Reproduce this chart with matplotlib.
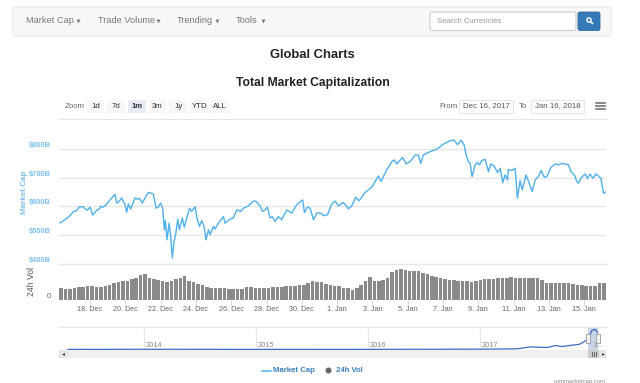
import numpy as np
import matplotlib
matplotlib.use("Agg")
import matplotlib.pyplot as plt
from matplotlib.patches import FancyBboxPatch, Rectangle, Circle

plt.rcParams["font.family"] = ["Liberation Sans", "DejaVu Sans"]

W, H = 640, 383

# ===== DATA =====
# days since the left edge of the chart (Dec 16), market cap in $B
cap_days = [
    0.06, 0.34, 0.62, 0.81, 1.00, 1.15, 1.34, 1.61, 1.76, 1.91, 2.14, 2.29, 2.36, 2.48, 2.66, 2.89,
    3.17, 3.27, 3.42, 3.55, 3.74, 3.84, 3.93, 4.06, 4.31, 4.44, 4.55, 4.72, 5.06, 5.35, 5.50, 5.63,
    5.76, 5.88, 5.97, 6.03, 6.12, 6.24, 6.33, 6.42, 6.52, 6.61, 6.73, 6.82, 6.99, 7.10, 7.39, 7.52,
    7.71, 7.84, 7.96, 8.09, 8.22, 8.33, 8.47, 8.56, 8.75, 8.84, 9.03, 9.32, 9.41, 9.69, 9.88, 10.07,
    10.30, 10.45, 10.73, 11.02, 11.17, 11.40, 11.53, 11.68, 11.81, 11.96, 12.09, 12.24, 12.43, 12.62,
    12.91, 13.19, 13.47, 13.81, 13.91, 14.08, 14.23, 14.42, 14.61, 14.85, 14.99, 15.21, 15.46, 15.65,
    15.83, 16.12, 16.40, 16.59, 16.82, 17.01, 17.35, 17.72, 18.10, 18.25, 18.57, 18.86, 18.99, 19.14,
    19.48, 19.67, 19.90, 20.18, 20.37, 20.50, 20.65, 20.84, 21.03, 21.41, 21.79, 22.16, 22.39, 22.58,
    22.79, 22.96, 23.05, 23.20, 23.30, 23.41, 23.58, 23.71, 23.83, 23.96, 24.15, 24.34, 24.47, 24.66,
    24.85, 25.00, 25.15, 25.28, 25.42, 25.47, 25.66, 25.85, 25.98, 26.13, 26.25, 26.47, 26.82, 26.98,
    27.17, 27.32, 27.50, 27.65, 27.88, 28.12, 28.31, 28.50, 28.88, 29.01, 29.20, 29.35, 29.44, 29.57,
    29.82, 29.95, 30.10, 30.26, 30.44, 30.71, 30.86, 31.00,
]
cap_values = [
    543, 554, 568, 582, 586, 599, 599, 587, 598, 570, 587, 591, 602, 597, 605, 623,
    642, 612, 619, 630, 606, 580, 609, 591, 630, 625, 629, 612, 649, 644, 594, 598,
    612, 594, 519, 551, 484, 542, 496, 421, 479, 502, 556, 519, 560, 528, 593, 583,
    599, 554, 531, 551, 531, 484, 519, 502, 531, 521, 542, 565, 542, 556, 560, 588,
    583, 594, 602, 619, 618, 602, 583, 588, 598, 560, 565, 548, 565, 554,
    588, 577, 606, 623, 579, 598, 594, 554, 577, 577, 568, 571, 609, 619,
    602, 614, 592, 602, 632, 620, 649, 667, 706, 687, 727, 756, 762, 748,
    771, 748, 756, 779, 779, 750, 779, 785, 791, 799, 817, 829, 831, 815,
    831, 814, 785, 756, 750, 704, 745, 753, 745, 760, 764, 721, 748, 741,
    718, 733, 683, 710, 692, 729, 725, 733, 629, 690, 658, 710, 652, 692,
    704, 725, 702, 704, 736, 748, 745, 750, 745, 721, 710, 687, 681, 698,
    713, 698, 713, 698, 713, 698, 646, 651,
]

# 24h volume in $B, one value every quarter of a day
vol_values = [
    23, 22, 22, 23, 26, 26, 28, 27, 25, 25, 28, 30, 34, 36, 38, 38,
    41, 44, 49, 50, 43, 42, 39, 38, 36, 38, 41, 43, 46, 38, 35, 32,
    29, 26, 24, 24, 23, 23, 22, 22, 21, 22, 25, 25, 24, 24, 23, 24,
    25, 25, 26, 27, 28, 28, 29, 30, 33, 38, 35, 35, 31, 29, 28, 27,
    24, 23, 20, 24, 30, 38, 45, 38, 38, 40, 44, 54, 58, 60, 59, 57,
    57, 56, 53, 50, 46, 45, 43, 41, 40, 39, 38, 37, 37, 36, 38, 40,
    41, 42, 41, 43, 43, 44, 45, 44, 44, 43, 43, 44, 43, 40, 34, 33,
    33, 33, 33, 33, 32, 30, 29, 28, 28, 27, 33, 33,
]
vol_ticks = ["18. Dec", "20. Dec", "22. Dec", "24. Dec", "26. Dec", "28. Dec", "30. Dec", "1. Jan",
             "3. Jan", "5. Jan", "7. Jan", "9. Jan", "11. Jan", "13. Jan", "15. Jan"]

# navigator: whole history, decimal year and market cap in $B
nav_years = [2013.32, 2014.0, 2014.5, 2015.0, 2015.5, 2016.0, 2016.5, 2017.0, 2017.33, 2017.45,
             2017.6, 2017.67, 2017.73, 2017.89, 2017.95, 2017.98, 2018.0, 2018.03, 2018.05]
nav_values = [3, 10, 8, 5, 5, 7, 10, 14, 27, 109, 82, 163, 122, 218, 381, 585, 789, 830, 694]
nav_year_labels = [2014, 2015, 2016, 2017]

cap_ticks = [400, 500, 600, 700, 800]
zoom_labels = ["1d", "7d", "1m", "3m", "1y", "YTD", "ALL"]
menu_labels = ["Market Cap", "Trade Volume", "Trending", "Tools"]

BLUE = "#4fb0ea"
TICK_BLUE = "#7cc0f0"
GRID = "#e6e6e6"
GRAY = "#666666"


def pixel_axes(fig, x0, y0, x1, y1):
    # axes from picture pixels (y counted from the top)
    return fig.add_axes([x0 / W, 1 - y1 / H, (x1 - x0) / W, (y1 - y0) / H])


fig = plt.figure(figsize=(W / 100, H / 100), dpi=100)

# page furniture lives in one axes counted in pixels
bg = fig.add_axes([0, 0, 1, 1])
bg.set_xlim(0, W)
bg.set_ylim(H, 0)
bg.axis("off")

bg.add_patch(FancyBboxPatch((13, 7), 598, 29, boxstyle="round,pad=0,rounding_size=2",
                            fc="#f8f8f8", ec="#e7e7e7", lw=0.8))
for label, x, caret in zip(menu_labels, [26, 98, 177, 236], [78, 158, 217, 263]):
    bg.text(x, 20.5, label, fontsize=6.7, color="#777777", va="center")
    bg.plot([caret], [21], marker="v", ms=2.8, color="#777777", mew=0)

bg.add_patch(FancyBboxPatch((430, 12), 146, 18.5, boxstyle="round,pad=0,rounding_size=2",
                            fc="white", ec="#cccccc", lw=0.8))
bg.text(437, 21.5, "Search Currencies", fontsize=5.6, color="#999999", va="center")
bg.add_patch(FancyBboxPatch((578, 12), 22, 18.5, boxstyle="round,pad=0,rounding_size=2",
                            fc="#337ab7", ec="#2e6da4", lw=0.6))
bg.add_patch(Circle((589, 20), 2.1, fc="none", ec="white", lw=1))
bg.plot([590.5, 592.5], [21.5, 23.5], color="white", lw=1.1)

bg.text(312.5, 55, "Global Charts", fontsize=9.4, color="#222222", ha="center", va="center",
        fontweight="bold")
bg.text(312.5, 83, "Total Market Capitalization", fontsize=8.7, color="#222222", ha="center",
        va="center", fontweight="bold")

# range selector row
bg.text(65, 106.5, "Zoom", fontsize=5.7, color="#666666", va="center")
for label, x0, x1 in zip(zoom_labels, [87, 107, 128, 149, 169, 191, 211],
                         [104, 125, 146, 166, 187, 208, 229]):
    active = label == "1m"
    bg.add_patch(Rectangle((x0, 100), x1 - x0, 13, fc="#e6ebf5" if active else "#f7f7f7", ec="none"))
    bg.text((x0 + x1) / 2, 106, label, fontsize=5.6, color="#333333", ha="center", va="center",
            fontweight="bold" if active else "normal")
bg.text(439, 106, "From", fontsize=5.6, color="#666666", va="center")
bg.text(519, 106, "To", fontsize=5.6, color="#666666", va="center")
for label, x0, x1 in [("Dec 16, 2017", 459, 513), ("Jan 16, 2018", 531, 584)]:
    bg.add_patch(Rectangle((x0, 100), x1 - x0, 13, fc="white", ec="#e6e6e6", lw=0.7))
    bg.text((x0 + x1) / 2, 106, label, fontsize=5.7, color="#555555", ha="center", va="center")
for y in (103, 106, 109):
    bg.plot([595.5, 605], [y, y], color="#666666", lw=1.1)
bg.plot([59, 606], [119, 119], color=GRID, lw=0.8)

# main line
ax = pixel_axes(fig, 59, 120.25, 606, 264)
ax.patch.set_alpha(0)
ax.plot(cap_days, cap_values, color=BLUE, lw=1.0, solid_joinstyle="round")
ax.set_xlim(0, 31)
ax.set_ylim(400, 900)
ax.set_yticks(cap_ticks)
ax.set_yticklabels([f"${v}B" for v in cap_ticks], color=TICK_BLUE, fontsize=5.4, fontweight="bold",
                   va="bottom")
ax.tick_params(axis="y", length=0, pad=5.8)
ax.set_xticks([])
ax.grid(axis="y", color=GRID, lw=0.9)
ax.set_axisbelow(True)
for spine in ax.spines.values():
    spine.set_visible(False)
bg.text(24, 192, "Market Cap", fontsize=5.8, color=TICK_BLUE, rotation=90, ha="center", va="center",
        fontweight="bold")

# volume bars
vax = pixel_axes(fig, 59, 264, 606, 300.4)
vol_days = np.arange(len(vol_values)) * 0.25 + 0.125
vax.bar(vol_days, vol_values, width=0.2, color="#8a8a8a", lw=0)
vax.set_xlim(0, 31)
vax.set_ylim(0, 70)
vax.set_yticks([0])
vax.set_yticklabels(["0"], fontsize=5.8, color=GRAY, va="bottom")
vax.tick_params(axis="y", length=0, pad=5.8)
vax.set_xticks(np.arange(len(vol_ticks)) * 2 + 1.76)
vax.set_xticklabels(vol_ticks, fontsize=5.2, color=GRAY)
vax.tick_params(axis="x", length=3.4, width=0.7, color="#ccd6eb", pad=0.6)
for name, spine in vax.spines.items():
    spine.set_visible(name == "top")
    spine.set_color(GRID)
bg.text(31, 282, "24h Vol", fontsize=6.2, color="#555555", rotation=90, ha="center", va="center")

# navigator
nax = pixel_axes(fig, 59, 327, 606, 349.5)
nax.plot(nav_years, nav_values, color="#3d6cc4", lw=0.9)
nax.set_xlim(2013.24, 2018.125)
nax.set_ylim(0, 930)
nax.set_yticks([])
nax.set_xticks(nav_year_labels)
nax.set_xticklabels([])
nax.tick_params(axis="x", length=0)
nax.grid(axis="x", color=GRID, lw=0.8)
nax.set_axisbelow(True)
for name, spine in nax.spines.items():
    spine.set_visible(name == "top")
    spine.set_color(GRID)
for year in nav_year_labels:
    nax.annotate(str(year), (year, 0), xytext=(1.2, 0.6), textcoords="offset points", fontsize=5.3,
                 color="#888888", va="bottom")
nax.axvspan(2017.965, 2018.05, color="#6685c2", alpha=0.35, lw=0)
nax.annotate("2...", (2018.0, 0), xytext=(1.2, 0.6), textcoords="offset points", fontsize=5.3,
             color="#888888", va="bottom")

# navigator handles and scrollbar
top = fig.add_axes([0, 0, 1, 1])
top.set_xlim(0, W)
top.set_ylim(H, 0)
top.axis("off")
for x in (588, 598):
    top.add_patch(Rectangle((x - 2, 334), 4, 9, fc="#f2f2f2", ec="#999999", lw=0.6))
top.add_patch(Rectangle((59, 350), 547, 8, fc="#f0f0f0", ec="none"))
top.add_patch(Rectangle((59, 350), 9, 8, fc="#e6e6e6", ec="none"))
top.add_patch(Rectangle((588, 350), 11, 8, fc="#cccccc", ec="none"))
top.add_patch(Rectangle((599, 350), 7, 8, fc="#e6e6e6", ec="none"))
top.plot([63], [354], marker="<", ms=2, color="#333333", mew=0)
top.plot([603], [354], marker=">", ms=2, color="#333333", mew=0)
for x in (591.5, 593.5, 595.5):
    top.plot([x, x], [352, 356], color="#555555", lw=0.6)

# legend and credit
top.plot([262, 271], [371, 371], color=BLUE, lw=1.1)
top.text(273, 371, "Market Cap", fontsize=5.6, color="#3a7fc1", va="center", fontweight="bold")
top.add_patch(Circle((328.5, 370.5), 3, fc="#666666", ec="none"))
top.text(336, 371, "24h Vol", fontsize=5.6, color="#3a7fc1", va="center", fontweight="bold")
top.text(606, 381, "coinmarketcap.com", fontsize=4.3, color="#888888", ha="right", va="center")

fig.savefig("out.png", dpi=100)
